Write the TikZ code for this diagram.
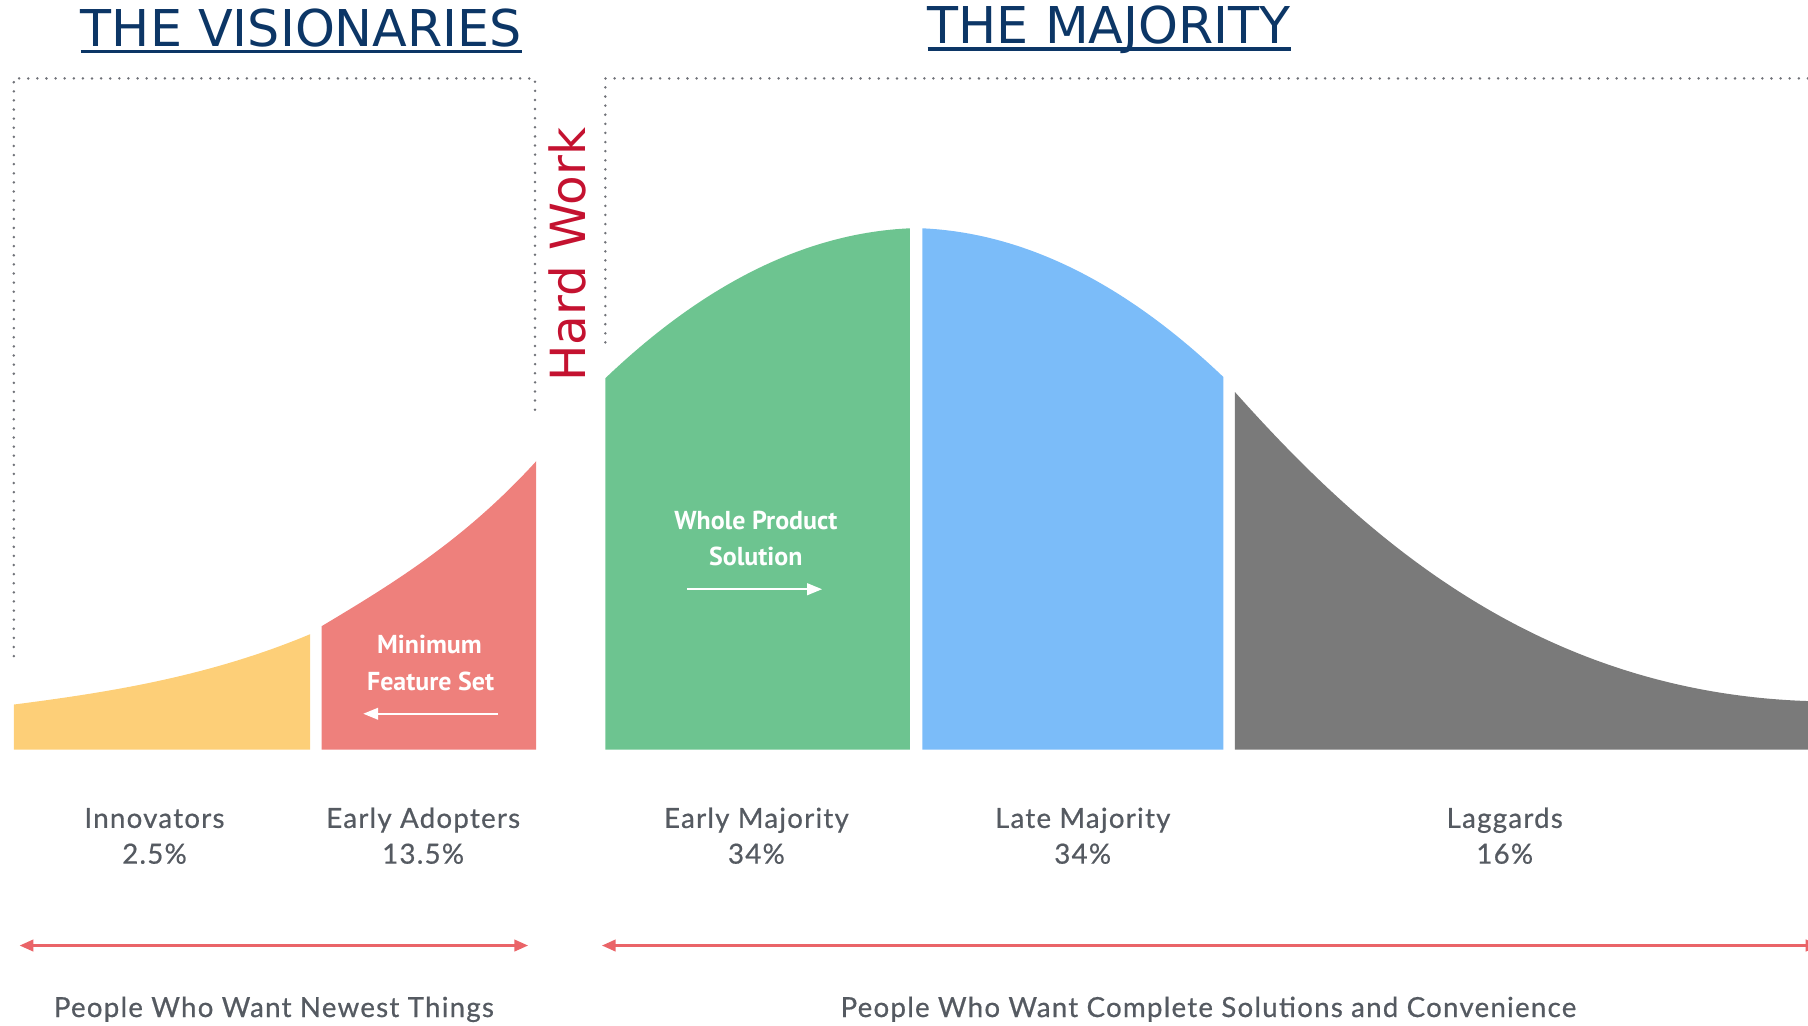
\documentclass[tikz,border=0pt]{standalone}
\usepackage{fontspec}
\setmainfont{DejaVu Sans}
\newfontfamily\lblfont[LetterSpace=4.5,FakeBold=0.6]{Lato}
\newfontfamily\inboxfont{PT Sans}
\usetikzlibrary{arrows.meta,positioning}
\definecolor{navy}{RGB}{12,54,102}
\definecolor{hardred}{RGB}{196,18,48}
\definecolor{dotgray}{RGB}{112,114,120}
\definecolor{lblgray}{RGB}{85,90,97}
\definecolor{arrowred}{RGB}{234,100,104}
\definecolor{yel}{RGB}{253,207,120}
\definecolor{sal}{RGB}{238,128,124}
\definecolor{grn}{RGB}{109,196,144}
\definecolor{blu}{RGB}{123,188,249}
\definecolor{gry}{RGB}{122,122,122}
\tikzset{
  head/.style={font=\fontsize{44}{52}\selectfont, text=navy, inner sep=0pt, anchor=base},
  uline/.style={draw=navy, line width=2.7pt},
  dots/.style={draw=dotgray, line width=2.4pt, line cap=round, dash pattern=on 0pt off 7.9pt},
  tag/.style={font=\lblfont\fontsize{24}{28}\selectfont, text=lblgray, inner sep=0pt, anchor=base},
  inlbl/.style={font=\inboxfont\bfseries\fontsize{22.5}{26}\selectfont, text=white, inner sep=0pt, anchor=base},
  inarr/.style={draw=white, line width=2pt, -{Triangle[length=13pt,width=10pt]}},
  spread/.style={draw=arrowred, line width=2.3pt, {Triangle[length=12pt,width=10pt]}-{Triangle[length=12pt,width=10pt]}}
}
\begin{document}
\begin{tikzpicture}[x=1pt, y=-1pt, line join=round]
  \useasboundingbox (0,0) rectangle (1568,889);
  % titles
  \node[head] (vis) at (261.5,40.5) {THE VISIONARIES};
  \node[head] (maj) at (962,38) {THE MAJORITY};
  \draw[uline] ([yshift=-4.5pt]vis.base west) -- ([yshift=-4.5pt]vis.base east);
  \draw[uline] ([yshift=-4.5pt]maj.base west) -- ([yshift=-4.5pt]maj.base east);
  % dotted frames
  \draw[dots] (12,569) -- (12,68) -- (464,68) -- (464,360);
  \draw[dots] (525,297) -- (525,68) -- (1572,68);
  \node[font=\fontsize{42}{50}\selectfont, text=hardred, inner sep=0pt, rotate=90] (hw) at (492,221) {Hard Work};
  % the five segments of the curve
  \fill[yel] (12,650) -- (12,611) .. controls (98,600) and (183,586) .. (269,550) -- (269,650) -- cycle;
  \fill[sal] (279,650) -- (279,543) .. controls (341,506) and (403,468) .. (465,400) -- (465,650) -- cycle;
  \fill[grn] (525,650) -- (525,328) .. controls (613,244) and (701,202) .. (789,198) -- (789,650) -- cycle;
  \fill[blu] (800,650) -- (800,198) .. controls (887,202) and (974,244) .. (1061,327) -- (1061,650) -- cycle;
  \fill[gry] (1071,650) -- (1071,340) .. controls (1180,462) and (1330,600) .. (1568,608) -- (1568,650) -- cycle;
  % texts inside
  \node[inlbl] (mfs1) at (372.5,567) {Minimum};
  \node[inlbl] (mfs2) at (373.5,599) {Feature Set};
  \coordinate (mfsA) at (432,619);
  \coordinate (mfsB) at (315,619);
  \draw[inarr] (mfsA) -- (mfsB);
  \node[inlbl] (wps1) at (655.5,459.5) {Whole Product};
  \node[inlbl] (wps2) at (655.5,490) {Solution};
  \coordinate (wpsA) at (596,511);
  \coordinate (wpsB) at (713,511);
  \draw[inarr] (wpsA) -- (wpsB);
  % segment names
  \foreach \n/\x/\name/\pct in {inn/134/Innovators/2.5, ea/367/Early Adopters/13.5, em/656/Early Majority/34, lm/939/Late Majority/34, lag/1305/Laggards/16}{
    \node[tag] (\n) at (\x,718) {\name};
    \node[tag] (\n-p) at (\x,749) {\pct\%};
  }
  % spans
  \coordinate (visL) at (17,820);
  \coordinate (visR) at (458,820);
  \coordinate (majL) at (522,820);
  \coordinate (majR) at (1578,820);
  \draw[spread] (visL) -- (visR);
  \draw[spread] (majL) -- (majR);
  \node[tag] (newest) at (237.5,882) {People Who Want Newest Things};
  \node[tag] (complete) at (1048,882) {People Who Want Complete Solutions and Convenience};
\end{tikzpicture}
\end{document}
